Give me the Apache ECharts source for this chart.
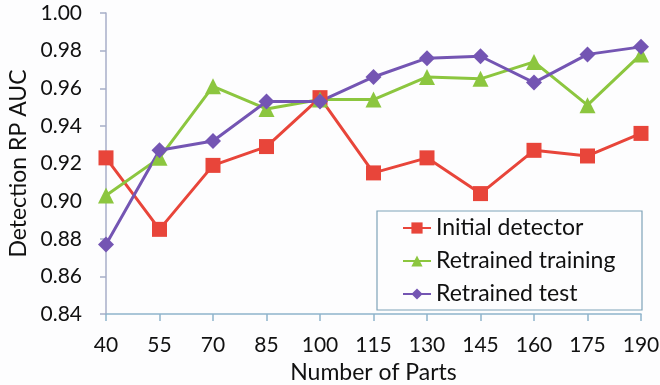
<!DOCTYPE html>
<html>
<head>
<meta charset="utf-8">
<script src="https://cdn.jsdelivr.net/npm/echarts@6/dist/echarts.min.js"></script>
<style>
  html, body { margin: 0; padding: 0; background: #fdfdfe; }
  #chart { width: 660px; height: 385px; }
</style>
</head>
<body>
<div id="chart"></div>
<script>
const parts = ['40', '55', '70', '85', '100', '115', '130', '145', '160', '175', '190'];
const initialDetector = [0.923, 0.885, 0.919, 0.929, 0.955, 0.915, 0.923, 0.904, 0.927, 0.924, 0.936];
const retrainedTraining = [0.903, 0.923, 0.961, 0.949, 0.954, 0.954, 0.966, 0.965, 0.974, 0.951, 0.978];
const retrainedTest = [0.877, 0.927, 0.932, 0.953, 0.953, 0.966, 0.976, 0.977, 0.963, 0.978, 0.982];

const font = 'Lato';

const chart = echarts.init(document.getElementById('chart'));

const makeSeries = (name, data, color, symbol, size) => ({
  name: name,
  type: 'line',
  data: data,
  symbol: symbol,
  symbolSize: size,
  showAllSymbol: true,
  lineStyle: { color: color, width: 3 },
  itemStyle: { color: color },
  emphasis: { disabled: true }
});

chart.setOption({
  animation: false,
  backgroundColor: '#fdfdfe',
  grid: { left: 106, right: 19, top: 13, bottom: 71, outerBoundsMode: 'none' },
  legend: {
    orient: 'vertical',
    left: 377,
    top: 211,
    padding: [4, 10, 3, 25],
    itemGap: 7,
    itemWidth: 28,
    itemHeight: 14,
    borderColor: '#7fa3b8',
    borderWidth: 1.2,
    borderRadius: 0,
    backgroundColor: '#fdfdfe',
    textStyle: { fontFamily: font, fontSize: 23, color: '#111', width: 196, lineHeight: 26 },
    data: ['Initial detector', 'Retrained training', 'Retrained test']
  },
  xAxis: {
    type: 'category',
    data: parts,
    boundaryGap: false,
    name: 'Number of Parts',
    nameLocation: 'middle',
    nameGap: 43,
    nameTextStyle: { fontFamily: font, fontSize: 23, color: '#111' },
    axisLine: { lineStyle: { color: '#8fb4cc', width: 1.5 } },
    axisTick: { alignWithLabel: true, length: 7, lineStyle: { color: '#8fb4cc', width: 1.5 } },
    axisLabel: { fontFamily: font, fontSize: 21, color: '#111', margin: 21 },
    splitLine: { show: false }
  },
  yAxis: {
    type: 'value',
    min: 0.84,
    max: 1.0,
    interval: 0.02,
    name: 'Detection RP AUC',
    nameLocation: 'middle',
    nameGap: 74,
    nameTextStyle: { fontFamily: font, fontSize: 23, color: '#111' },
    axisLine: { show: true, lineStyle: { color: '#a7aec8', width: 1.5 } },
    axisTick: { show: true, length: 6, lineStyle: { color: '#a7aec8', width: 1.5 } },
    axisLabel: {
      fontFamily: font, fontSize: 21, color: '#111', margin: 24,
      formatter: v => v.toFixed(2)
    },
    splitLine: { show: false }
  },
  series: [
    makeSeries('Initial detector', initialDetector, '#e8453a', 'rect', 15),
    makeSeries('Retrained training', retrainedTraining, '#8cc63f', 'triangle', 16),
    makeSeries('Retrained test', retrainedTest, '#7455b3', 'diamond', 16)
  ]
});
</script>
</body>
</html>
